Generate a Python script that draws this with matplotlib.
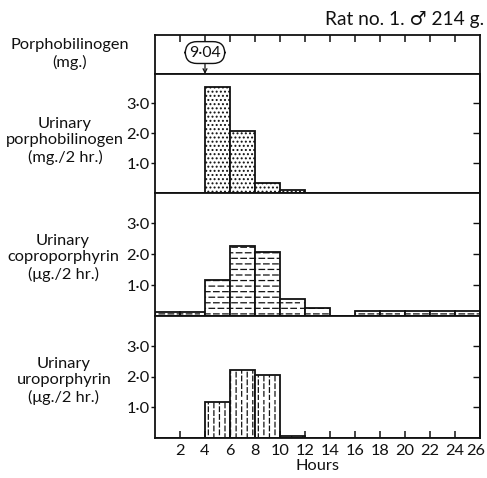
import numpy as np
import matplotlib
matplotlib.use("Agg")
import matplotlib.pyplot as plt
import matplotlib.hatch as mhatch
import matplotlib.transforms as mtrans
from matplotlib.path import Path

# ---------------- data ----------------
bin_left = [0, 2, 4, 6, 8, 10, 12, 14, 16, 18, 20, 22, 24]
porphobilinogen = [0, 0, 3.53, 2.07, 0.33, 0.11, 0, 0, 0, 0, 0, 0, 0]
coproporphyrin = [0.14, 0.14, 1.18, 2.27, 2.07, 0.55, 0.27, 0, 0.16, 0.16, 0.16, 0.16, 0.16]
uroporphyrin = [0, 0, 1.16, 2.23, 2.07, 0.07, 0, 0, 0, 0, 0, 0, 0]
dose_time = 4
dose_label = "9·04"
y_ticks = [1, 2, 3]
y_ticklabels = ["1·0", "2·0", "3·0"]
x_ticks = [2, 4, 6, 8, 10, 12, 14, 16, 18, 20, 22, 24, 26]
title = "Rat no. 1. ♂ 214 g."
panel_labels = ["Urinary\nporphobilinogen\n(mg./2 hr.)",
                "Urinary\ncoproporphyrin\n(μg./2 hr.)",
                "Urinary\nuroporphyrin\n(μg./2 hr.)"]
strip_label = "Porphobilinogen\n(mg.)"


# ---------------- custom dashed hatches ----------------
class DashedHorizontal(mhatch.HatchPatternBase):
    def __init__(self, hatch, density):
        self.num_lines = int((hatch.count('-') + hatch.count('+')) * density)
        self.ndash = 11
        self.num_vertices = self.num_lines * self.ndash * 2

    def set_vertices_and_codes(self, vertices, codes):
        ys = (np.arange(self.num_lines) + 0.5) / self.num_lines
        period = 1.0 / self.ndash
        dash = period * 0.6
        k = 0
        for i, y in enumerate(ys):
            off = (i % 2) * period / 2
            for j in range(self.ndash):
                x0 = j * period + off
                vertices[k] = (x0, y)
                vertices[k + 1] = (x0 + dash, y)
                codes[k] = Path.MOVETO
                codes[k + 1] = Path.LINETO
                k += 2


class DashedVertical(mhatch.HatchPatternBase):
    def __init__(self, hatch, density):
        self.num_lines = int((hatch.count('|') + hatch.count('+')) * density)
        self.ndash = 13
        self.num_vertices = self.num_lines * self.ndash * 2

    def set_vertices_and_codes(self, vertices, codes):
        xs = (np.arange(self.num_lines) + 0.5) / self.num_lines
        period = 1.0 / self.ndash
        dash = period * 0.6
        k = 0
        for i, x in enumerate(xs):
            off = (i % 2) * period / 2
            for j in range(self.ndash):
                y0 = j * period + off
                vertices[k] = (x, y0)
                vertices[k + 1] = (x, y0 + dash)
                codes[k] = Path.MOVETO
                codes[k + 1] = Path.LINETO
                k += 2


mhatch._hatch_types[0] = DashedHorizontal
mhatch._hatch_types[1] = DashedVertical

# ---------------- style ----------------
plt.rcParams['font.family'] = ['Lato', 'DejaVu Sans']
plt.rcParams['hatch.linewidth'] = 0.9
ink = '#111111'
FS = 11.8
TFS = 11.8

W, H = 487, 478
fig = plt.figure(figsize=(W / 100, H / 100), dpi=100)


def fx(x):
    return x / W


def fy(y):
    return 1 - y / H


L, R = 155, 480
rows = [(35, 74), (74, 193), (193, 316), (316, 438)]


def make_ax(top, bot):
    return fig.add_axes([fx(L), fy(bot), fx(R) - fx(L), (bot - top) / H])


# strip
ax0 = make_ax(*rows[0])
ax0.set_xlim(0, 26)
ax0.set_ylim(0, 1)
ax0.set_yticks([])
ax0.set_xticks(x_ticks[:-1])
ax0.tick_params(axis='x', bottom=False, top=True, labelbottom=False,
                direction='in', length=5, width=1.1, color=ink)
ax0.annotate(dose_label, xy=(dose_time, 0), xytext=(dose_time, 0.55),
             textcoords='data', ha='center', va='center', fontsize=TFS - 0.5,
             color=ink,
             bbox=dict(boxstyle='round,pad=0.25,rounding_size=0.75', fc='white', ec=ink, lw=1.0),
             arrowprops=dict(arrowstyle='->', color=ink, lw=0.9, shrinkA=0, shrinkB=0,
                             mutation_scale=7))

data_axes = []
series = [porphobilinogen, coproporphyrin, uroporphyrin]
hatches = ['....', '---', '|||']
for i, (vals, hat) in enumerate(zip(series, hatches)):
    ax = make_ax(*rows[i + 1])
    ax.set_xlim(0, 26)
    ax.set_ylim(0, 3.98)
    ax.bar(bin_left, vals, width=2, align='edge', facecolor='white',
           edgecolor=ink, linewidth=1.3, hatch=hat)
    ax.set_yticks(y_ticks)
    ax.set_yticklabels(y_ticklabels, fontsize=TFS, color=ink)
    ax.tick_params(axis='y', direction='out', length=3, width=1.0, pad=1, color=ink)
    sec = ax.secondary_yaxis('right')
    sec.set_yticks(y_ticks)
    sec.tick_params(direction='in', length=5, width=1.0, labelright=False, color=ink)
    sec.spines['right'].set_linewidth(1.3)
    if i < 2:
        ax.set_xticks([])
    else:
        ax.set_xticks(x_ticks)
        ax.set_xticklabels([str(t) for t in x_ticks], fontsize=TFS, color=ink)
        ax.tick_params(axis='x', direction='in', length=5, width=1.1, pad=4, color=ink)
        last = ax.get_xticklabels()[-1]
        last.set_transform(last.get_transform() +
                           mtrans.ScaledTranslation(-4 / 100, 0, fig.dpi_scale_trans))
        ax.set_xlabel("Hours", fontsize=FS, color=ink, labelpad=1)
    data_axes.append(ax)

for ax in [ax0] + data_axes:
    for s in ax.spines.values():
        s.set_linewidth(1.3)
        s.set_color(ink)

# left labels
fig.text(fx(70), fy(54), strip_label, ha='center', va='center', fontsize=FS,
         linespacing=1.3, color=ink)
label_pos = [(65, 141), (63, 258), (64, 381)]
for (x, y), lab in zip(label_pos, panel_labels):
    fig.text(fx(x), fy(y), lab, ha='center', va='center', fontsize=FS,
             linespacing=1.22, color=ink)

fig.text(fx(484), fy(20), title, ha='right', va='center', fontsize=FS + 2, color=ink)

fig.savefig("out.png", dpi=100)
